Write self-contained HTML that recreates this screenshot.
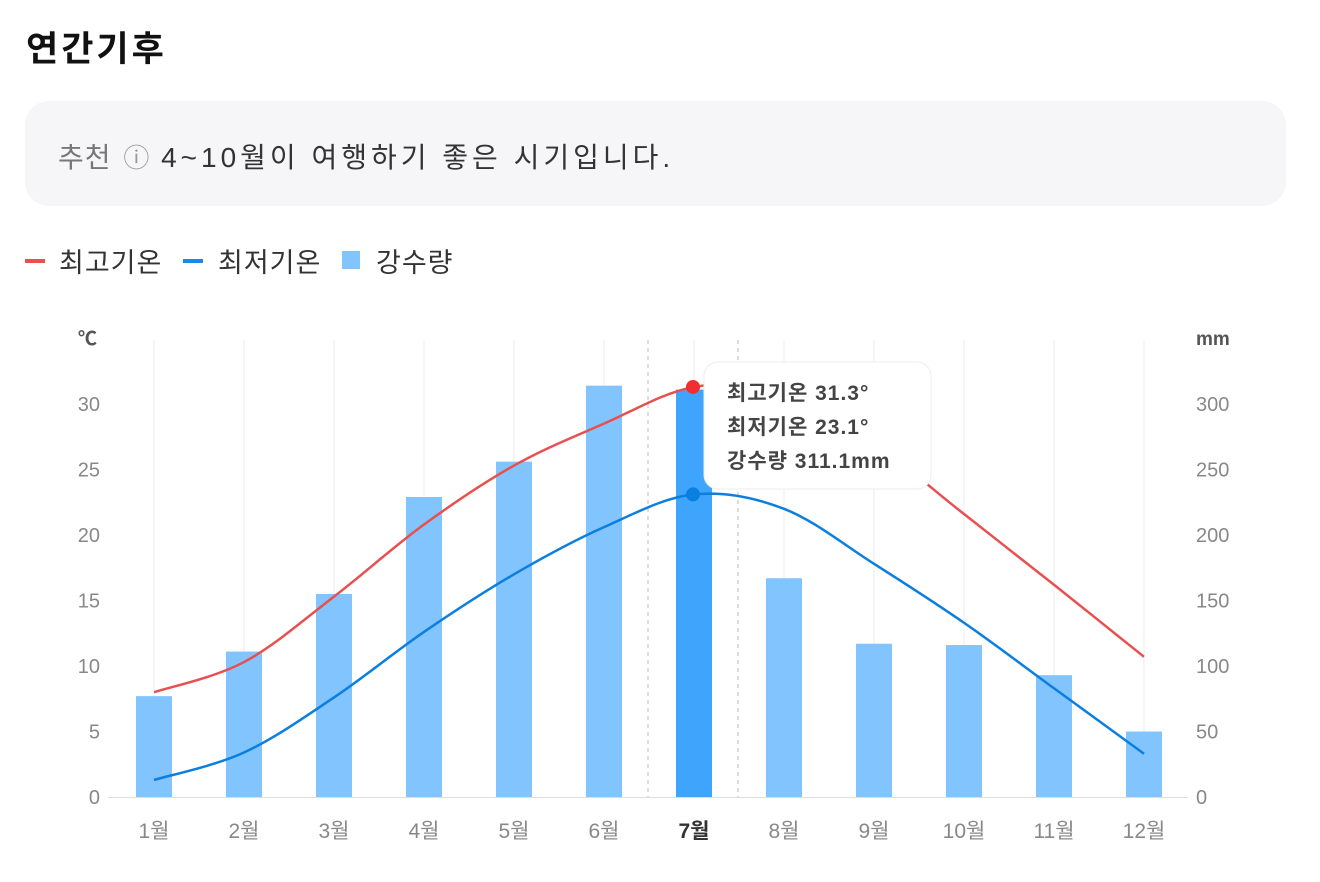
<!DOCTYPE html>
<html><head><meta charset="utf-8"><style>
body{margin:0;background:#fff;width:1320px;height:882px;overflow:hidden;font-family:"Liberation Sans","Noto Sans CJK KR",sans-serif}
h1{position:absolute;left:26px;top:21px;margin:0;font-size:35px;font-weight:bold;color:#111;letter-spacing:3px}
.box{position:absolute;left:25px;top:101px;width:1261px;height:105px;background:#f6f6f8;border-radius:24px}
.box span{position:absolute;left:33px;top:35px;font-size:28px;color:#333;letter-spacing:4px;white-space:nowrap}
</style></head><body>
<h1>연간기후</h1>
<div class="box"><span><span style="position:static;color:#777;letter-spacing:1px">추천</span> <span style="position:static;color:#999;font-size:26px;letter-spacing:0">ⓘ</span> 4~10월이 여행하기 좋은 시기입니다.</span></div>
<svg id="c" width="1320" height="882" style="position:absolute;left:0;top:0" font-family="Liberation Sans, Noto Sans CJK KR, sans-serif"></svg>
<script>
var s='';
s+='<rect x="25" y="259" width="20" height="4" fill="#e85050"/><text x="59" y="272" font-size="27" fill="#333" letter-spacing="1">최고기온</text>';
s+='<rect x="183" y="259" width="20" height="4" fill="#1e88e5"/><text x="218" y="272" font-size="27" fill="#333" letter-spacing="1">최저기온</text>';
s+='<rect x="342" y="251" width="18" height="18" fill="#82c4fd"/><text x="376" y="272" font-size="27" fill="#333" letter-spacing="1">강수량</text>';
var X=function(i){return 154+90*i}, Y=function(v){return 797-13.1*v};
for(var i=0;i<12;i++)s+='<line x1="'+X(i)+'" y1="340" x2="'+X(i)+'" y2="797" stroke="#eee"/>';
s+='<line x1="108" y1="797.5" x2="1188" y2="797.5" stroke="#ddd"/>';
s+='<text x="78" y="345" font-size="19" font-weight="bold" fill="#555">℃</text><text x="1196" y="345" font-size="19" font-weight="bold" fill="#555">mm</text>';
for(var k=0;k<=6;k++){var y=Y(5*k)+7;s+='<text x="100" y="'+y+'" font-size="20" fill="#888" text-anchor="end">'+5*k+'</text><text x="1196" y="'+y+'" font-size="20" fill="#888">'+50*k+'</text>';}
var rain=[77,111,155,229,256,314,311,167,117,116,93,50];
for(i=0;i<12;i++){var h=rain[i]*1.31;s+='<rect x="'+(X(i)-18)+'" y="'+(797-h)+'" width="36" height="'+h+'" fill="'+(i==6?'#3fa5fc':'#82c4fd')+'"/>';
s+='<text x="'+X(i)+'" y="838" font-size="21" text-anchor="middle" fill="'+(i==6?'#333':'#888')+'"'+(i==6?' font-weight="bold"':'')+'>'+(i+1)+'월</text>';}
s+='<line x1="648" y1="340" x2="648" y2="797" stroke="#bbb" stroke-dasharray="4,4"/><line x1="738" y1="340" x2="738" y2="797" stroke="#bbb" stroke-dasharray="4,4"/>';
function path(d){var p=d.map(function(v,i){return [X(i),Y(v)]});var str='M'+p[0][0]+','+p[0][1];
for(var i=0;i<p.length-1;i++){var p0=p[i-1]||p[i],p1=p[i],p2=p[i+1],p3=p[i+2]||p2;
str+=' C'+(p1[0]+(p2[0]-p0[0])/6)+','+(p1[1]+(p2[1]-p0[1])/6)+' '+(p2[0]-(p3[0]-p1[0])/6)+','+(p2[1]-(p3[1]-p1[1])/6)+' '+p2[0]+','+p2[1];}return str;}
var hi=[8.0,10.3,15.3,20.8,25.3,28.5,31.3,31.0,27.0,21.6,16.2,10.7],lo=[1.3,3.4,7.6,12.6,17.0,20.6,23.1,22.0,17.8,13.3,8.3,3.3];
s+='<path d="'+path(hi)+'" fill="none" stroke="#e85050" stroke-width="2.5"/><path d="'+path(lo)+'" fill="none" stroke="#0a7fe0" stroke-width="2.5"/>';
s+='<circle cx="693" cy="'+Y(31.3)+'" r="7" fill="#f03030"/><circle cx="693" cy="'+Y(23.1)+'" r="7" fill="#0a7fe0"/>';
s+='<rect x="704" y="362" width="227" height="127" rx="14" fill="#fff" stroke="#eee"/>';
s+='<text font-size="21" font-weight="bold" fill="#444" letter-spacing="1"><tspan x="727" y="400">최고기온 31.3°</tspan><tspan x="727" y="434">최저기온 23.1°</tspan><tspan x="727" y="468">강수량 311.1mm</tspan></text>';
document.getElementById('c').innerHTML=s;
</script>
</body></html>
